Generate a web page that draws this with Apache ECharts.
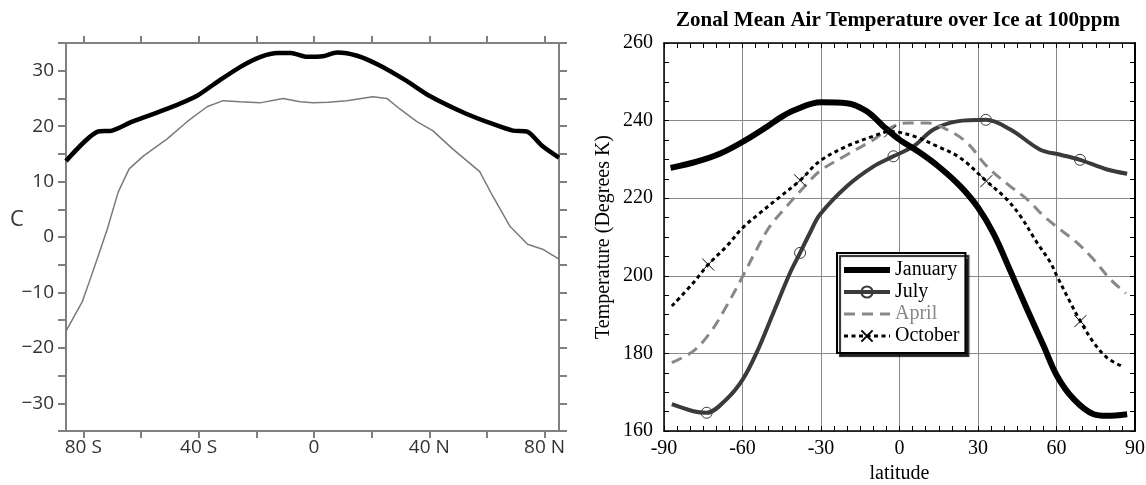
<!DOCTYPE html>
<html>
<head>
<meta charset="utf-8">
<title>Zonal mean temperature</title>
<script src="https://cdn.jsdelivr.net/npm/echarts@6/dist/echarts.min.js"></script>
<style>
html, body { margin: 0; padding: 0; background: #fff; }
#chart { width: 1146px; height: 485px; }
</style>
</head>
<body>
<div id="chart"></div>
<script>
// left panel: zonal mean surface temperature (C)
const leftTickValues = [-80, -60, -40, -20, 0, 20, 40, 60, 80]
const leftLabelValues = [-80, -40, 0, 40, 80]
const leftLabelText = ['80 S', '40 S', '0', '40 N', '80 N']

const thickLat = [-86, -75, -70, -63, -51, -40.5, -33.5, -25.5, -18.5, -12.5, -8, -2.5, 3, 8, 15, 23, 32, 40, 53, 62, 69, 74, 79, 85]
const thickTemp = [13.7, 19.0, 19.2, 20.8, 23.1, 25.5, 28.0, 30.7, 32.5, 33.2, 33.2, 32.5, 32.6, 33.3, 32.7, 30.9, 28.2, 25.5, 22.2, 20.4, 19.2, 19.0, 16.5, 14.3]

const thinLat = [-86, -80.3, -77.6, -74.8, -71.7, -67.9, -64.1, -59.2, -50.9, -44, -37.1, -31.5, -25.6, -18.7, -10.7, -4.8, -0.3, 5, 11.4, 20.4, 25.3, 29.8, 35.7, 41.2, 48.1, 57.5, 62, 67.9, 74.1, 79.3, 85]
const thinTemp = [-17.0, -11.6, -7.6, -3.4, 1.4, 8.1, 12.3, 14.6, 17.7, 20.8, 23.5, 24.6, 24.4, 24.2, 25.0, 24.4, 24.2, 24.3, 24.6, 25.3, 25.0, 23.1, 20.8, 19.2, 15.9, 11.8, 7.4, 2.0, -1.3, -2.2, -4.0]

// right panel: zonal mean air temperature over ice at 100ppm (K)
const janLat = [-87.5, -77.5, -68.5, -59.5, -50.5, -45.7, -40.5, -30, -20.1, -12.5, -6.1, 0, 7.9, 15.6, 23.2, 30, 36, 42.4, 48.8, 55.1, 60.2, 66.6, 74.2, 79.3, 87]
const janTemp = [227.8, 229.4, 231.5, 234.7, 238.5, 240.7, 242.6, 244.7, 244.5, 242.4, 238.5, 235.1, 231.7, 227.8, 223.1, 217.6, 210.8, 201.2, 191.3, 181.9, 174.2, 168.2, 164.3, 163.9, 164.3]

const julLat = [-87, -78.8, -73.7, -66.1, -59.9, -54.6, -48.2, -41.8, -38, -34.2, -30.4, -20.1, -9.9, -2.3, 5.4, 13, 22, 33, 42.4, 53.8, 61.5, 69, 79.4, 87]
const julTemp = [166.9, 165.1, 164.7, 168.2, 173.3, 180.2, 190.5, 200.8, 205.9, 211.1, 215.8, 223.1, 228.2, 230.8, 233.4, 237.7, 239.8, 240.2, 237.7, 232.5, 231.2, 229.9, 227.4, 226.3]
const julMarks = [-73.7, -38, -2.3, 33, 69]

const aprLat = [-87, -78.8, -72.4, -66.1, -59.9, -54.6, -49.5, -43.1, -37, -30.4, -20.1, -9.9, -3.6, 2.8, 10.5, 18.1, 25.8, 33.4, 41.5, 48.8, 55.1, 61.5, 67.9, 74.2, 80.6, 86.5]
const aprTemp = [177.6, 180.6, 185.3, 192.2, 199.9, 206.8, 212.8, 217.9, 222.5, 227.0, 231.2, 235.1, 238.1, 239.4, 239.4, 237.7, 234.3, 228.2, 223.5, 219.7, 215.4, 211.9, 208.5, 204.2, 199.1, 195.5]

const octLat = [-87, -78.8, -73.1, -66.1, -59.9, -53.3, -46.9, -38, -30.4, -20.1, -9.9, -3.6, 5.4, 14.3, 23.2, 33.2, 41, 46.2, 52.6, 57.7, 60.2, 65.3, 69.1, 74.2, 79.3, 85]
const octTemp = [192.2, 198.2, 202.9, 207.6, 212.4, 216.2, 219.7, 224.6, 229.6, 233.4, 236.0, 237.2, 236.0, 233.4, 230.4, 224.4, 219.7, 215.4, 208.5, 203.4, 199.9, 193.1, 188.3, 182.8, 178.9, 176.7]
const octMarks = [-73.1, -38, -3.6, 33.2, 69.1]

const serif = "'Liberation Serif', 'Times New Roman', serif"
const sans = "'Open Sans', 'Liberation Sans', sans-serif"
const frameGray = '#808080'

function pairs(lats, temps) {
  return lats.map((lat, i) => [lat, temps[i]])
}

// only the listed latitudes keep the series symbol
function marked(lats, temps, marks) {
  return lats.map((lat, i) => {
    if (marks.indexOf(lat) >= 0) {
      return [lat, temps[i]]
    }
    return { value: [lat, temps[i]], symbol: 'none' }
  })
}

function leftX(position, showLabel) {
  return {
    gridIndex: 0,
    type: 'value',
    position: position,
    min: -86,
    max: 85,
    axisLine: { onZero: false, lineStyle: { color: frameGray, width: 2 } },
    axisTick: { customValues: leftTickValues, length: 7, lineStyle: { color: frameGray, width: 2 } },
    axisLabel: {
      show: showLabel,
      customValues: leftLabelValues,
      formatter: v => leftLabelText[leftLabelValues.indexOf(v)],
      margin: 7,
      color: '#333',
      fontFamily: sans,
      fontSize: 19,
    },
    splitLine: { show: false },
  }
}

function leftY(position, showLabel) {
  return {
    gridIndex: 0,
    type: 'value',
    position: position,
    min: -35,
    max: 35,
    interval: 5,
    axisLine: { onZero: false, lineStyle: { color: frameGray, width: 2 } },
    axisTick: { length: 8, lineStyle: { color: frameGray, width: 2 } },
    axisLabel: {
      show: showLabel,
      formatter: v => (v % 10 === 0 ? String(v).replace('-', '\u2212') : ''),
      margin: 12,
      color: '#333',
      fontFamily: sans,
      fontSize: 19,
    },
    splitLine: { show: false },
  }
}

function rightX(position, showLabel) {
  return {
    gridIndex: 1,
    type: 'value',
    position: position,
    min: -90,
    max: 90,
    interval: 30,
    name: showLabel ? 'latitude' : '',
    nameLocation: 'middle',
    nameGap: 28,
    nameTextStyle: { fontFamily: serif, fontSize: 20, color: '#000' },
    axisLine: { onZero: false, lineStyle: { color: '#000', width: 1.5 } },
    axisTick: { inside: true, length: 5, lineStyle: { color: '#000', width: 1 } },
    minorTick: { show: true, splitNumber: 6, length: 5, lineStyle: { color: '#000', width: 1 } },
    axisLabel: { show: showLabel, margin: 8, color: '#000', fontFamily: serif, fontSize: 20 },
    splitLine: { show: showLabel, lineStyle: { color: '#8a8a8a', width: 1 } },
  }
}

function rightY(position, showLabel) {
  return {
    gridIndex: 1,
    type: 'value',
    position: position,
    min: 160,
    max: 260,
    interval: 20,
    name: showLabel ? 'Temperature (Degrees K)' : '',
    nameLocation: 'middle',
    nameGap: 50,
    nameTextStyle: { fontFamily: serif, fontSize: 20, color: '#000' },
    axisLine: { onZero: false, lineStyle: { color: '#000', width: showLabel ? 1.5 : 2 } },
    axisTick: { inside: true, length: 5, lineStyle: { color: '#000', width: 1 } },
    minorTick: { show: true, splitNumber: 4, length: 5, lineStyle: { color: '#000', width: 1 } },
    axisLabel: { show: showLabel, margin: 11, color: '#000', fontFamily: serif, fontSize: 20 },
    splitLine: { show: showLabel, lineStyle: { color: '#8a8a8a', width: 1 } },
  }
}

const chart = echarts.init(document.getElementById('chart'))
chart.setOption({
  animation: false,
  backgroundColor: '#fff',
  title: {
    text: 'Zonal Mean Air Temperature over Ice at 100ppm',
    left: 893,
    top: 5,
    textAlign: 'center',
    textStyle: { fontFamily: serif, fontSize: 21, fontWeight: 'bold', color: '#000' },
  },
  graphic: [
    {
      type: 'text',
      left: 10,
      top: 209,
      style: { text: 'C', fontFamily: sans, fontSize: 22, fill: '#333' },
    },
  ],
  grid: [
    { left: 66, top: 43, width: 493, height: 388, outerBoundsMode: 'none' },
    { left: 664, top: 43, width: 471, height: 388, outerBoundsMode: 'none' },
  ],
  xAxis: [leftX('bottom', true), leftX('top', false), rightX('bottom', true), rightX('top', false)],
  yAxis: [leftY('left', true), leftY('right', false), rightY('left', true), rightY('right', false)],
  legend: {
    orient: 'vertical',
    left: 837,
    top: 253,
    padding: [6, 6, 6, 4],
    itemGap: 0,
    itemWidth: 46,
    itemHeight: 14,
    selectedMode: false,
    backgroundColor: '#fff',
    borderColor: '#000',
    borderWidth: 2,
    shadowColor: 'rgba(0,0,0,0.85)',
    shadowBlur: 1,
    shadowOffsetX: 3,
    shadowOffsetY: 3,
    lineStyle: { width: 'inherit' },
    textStyle: { fontFamily: serif, fontSize: 20, lineHeight: 22, color: '#000' },
    data: [
      { name: 'January' },
      { name: 'July' },
      { name: 'April', textStyle: { color: '#888' } },
      { name: 'October' },
    ],
  },
  series: [
    {
      type: 'line',
      xAxisIndex: 0,
      yAxisIndex: 0,
      symbol: 'none',
      data: pairs(thinLat, thinTemp),
      lineStyle: { color: '#7a7a7a', width: 1.5 },
    },
    {
      type: 'line',
      xAxisIndex: 0,
      yAxisIndex: 0,
      symbol: 'none',
      smooth: 0.25,
      data: pairs(thickLat, thickTemp),
      lineStyle: { color: '#000', width: 4.5 },
    },
    {
      name: 'July',
      type: 'line',
      xAxisIndex: 2,
      yAxisIndex: 2,
      smooth: 0.35,
      symbol: 'circle',
      symbolSize: 11,
      data: marked(julLat, julTemp, julMarks),
      lineStyle: { color: '#3a3a3a', width: 4 },
      itemStyle: { color: 'transparent', borderColor: '#3a3a3a', borderWidth: 1 },
    },
    {
      name: 'April',
      type: 'line',
      xAxisIndex: 2,
      yAxisIndex: 2,
      smooth: 0.35,
      symbol: 'none',
      data: pairs(aprLat, aprTemp),
      lineStyle: { color: '#888', width: 3, type: [11, 7] },
      itemStyle: { color: 'transparent' },
    },
    {
      name: 'October',
      type: 'line',
      xAxisIndex: 2,
      yAxisIndex: 2,
      smooth: 0.35,
      symbol: 'path://M0,0L10,10M10,0L0,10',
      symbolSize: 12,
      data: marked(octLat, octTemp, octMarks),
      lineStyle: { color: '#000', width: 3, type: [4, 3.5] },
      itemStyle: { color: 'transparent', borderColor: '#000', borderWidth: 1 },
    },
    {
      name: 'January',
      type: 'line',
      xAxisIndex: 2,
      yAxisIndex: 2,
      smooth: 0.35,
      symbol: 'none',
      data: pairs(janLat, janTemp),
      lineStyle: { color: '#000', width: 6 },
      itemStyle: { color: 'transparent' },
    },
  ],
})
</script>
</body>
</html>
